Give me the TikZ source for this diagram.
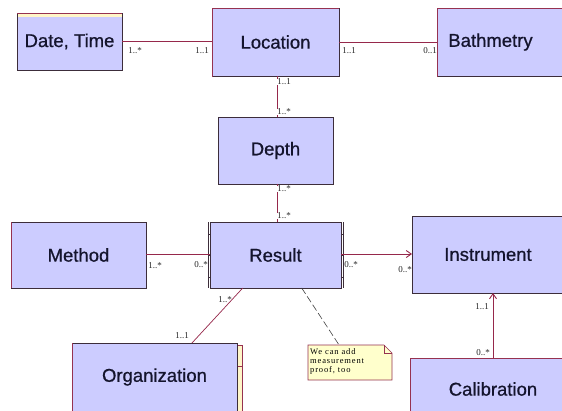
\documentclass[tikz,border=0pt]{standalone}
\usepackage{fontspec}
\setsansfont{Liberation Sans}
\newfontfamily\titlefont[FakeBold=0.7]{Liberation Sans}
\newfontfamily\multfont{Liberation Serif}
\newfontfamily\notefont[LetterSpace=10]{Liberation Serif}
\usetikzlibrary{arrows.meta,calc}

\definecolor{boxfill}{RGB}{204,204,255}
\definecolor{boxline}{RGB}{60,45,58}
\definecolor{edgered}{RGB}{150,50,80}
\definecolor{assoc}{RGB}{150,40,75}
\definecolor{ink}{RGB}{20,20,45}
\definecolor{notefill}{RGB}{255,255,204}
\definecolor{stripe}{RGB}{255,246,200}

\tikzset{
  cls/.style={draw=boxline, fill=boxfill, line width=0.9pt, inner sep=0pt,
              outer sep=0pt, anchor=north west},
  ttl/.style={font=\titlefont\fontsize{18.5}{20}\selectfont, text=ink},
  mult/.style={font=\multfont\fontsize{9}{9}\selectfont, text=black!85,
               inner sep=0.4pt},
  multbg/.style={mult, fill=white},
  assocline/.style={draw=assoc, line width=0.9pt},
  navig/.style={assocline, -{Straight Barb[length=5pt,width=7pt]}},
  anchorline/.style={draw=black!75, line width=0.6pt, dash pattern=on 7pt off 3pt},
}

\begin{document}
\begin{tikzpicture}[x=1pt,y=-1pt]
\useasboundingbox (0,0) rectangle (562,410);
\clip (0,0) rectangle (562,410);
\fill[white] (0,0) rectangle (562,410);

% classes
\node[cls, minimum width=105, minimum height=57,
      label={[ttl]center:Date, Time}] (date) at (17,13) {};
\fill[stripe] ([shift={(0.5,0.5)}]date.north west) rectangle ([shift={(-0.5,3.5)}]date.north east);
\draw[edgered, line width=0.6pt] (date.north west) -- (date.north east);

\node[cls, minimum width=127, minimum height=68,
      label={[ttl]center:Location}] (loc) at (212,8) {};
\node[cls, minimum width=133, minimum height=68,
      label={[ttl, xshift=-13]center:Bathmetry}] (bath) at (437,8) {};
\node[cls, minimum width=115, minimum height=67,
      label={[ttl]center:Depth}] (depth) at (218,117) {};
\node[cls, minimum width=135, minimum height=66,
      label={[ttl]center:Method}] (method) at (11,222) {};
\node[cls, minimum width=131, minimum height=66,
      label={[ttl]center:Result}] (result) at (210,222) {};
\node[cls, minimum width=158, minimum height=77,
      label={[ttl, xshift=-3]center:Instrument}] (instr) at (412,216) {};
\node[cls, minimum width=165, minimum height=72,
      label={[ttl, yshift=2]center:Organization}] (org) at (72,343) {};
\node[cls, minimum width=160, minimum height=57,
      label={[ttl, xshift=3, yshift=-2.5]center:Calibration}] (calib) at (410,358) {};

% reddish outer edges
\foreach \n in {loc,bath,calib}
  \draw[edgered, line width=0.5pt] ([yshift=-1]\n.south west) -- (\n.north west) -- (\n.north east);
\draw[edgered, line width=0.5pt] (method.south west) -- (method.north west);
\draw[edgered, line width=0.5pt] (org.south west) -- (org.north west);

% compartment tabs on the result class
\draw[boxline, line width=0.6pt] ([xshift=-2]result.north west) -- ([xshift=-2]result.south west);
\draw[boxline, line width=0.6pt] ([xshift=2]result.north east) -- ([xshift=2]result.south east);
\foreach \dy in {12,33,55}{
  \draw[boxline, line width=0.6pt] ([shift={(-2,\dy)}]result.north west) -- ++(2,0);
  \draw[boxline, line width=0.6pt] ([shift={(0,\dy)}]result.north east) -- ++(2,0);
}

% side strip on the organization class
\fill[stripe] ([shift={(0.5,2)}]org.north east) rectangle ([shift={(5,0)}]org.south east);
\draw[edgered, line width=0.5pt] ([shift={(0.5,2)}]org.north east) -- ([shift={(5,2)}]org.north east)
  -- ([shift={(5,0)}]org.south east);
\draw[edgered, line width=0.5pt] ([shift={(0.5,23)}]org.north east) -- ++(4.5,0);

% note with folded corner
\coordinate (nw) at (308,345);
\path[draw=edgered, fill=notefill, line width=0.6pt]
  (nw) -- (384,345) -- (392,353) -- (392,380) -- (308,380) -- cycle;
\draw[edgered, line width=0.6pt] (384,345) -- (384,353) -- (392,353);
\node[inner sep=0pt, outer sep=0pt, anchor=north west,
      minimum width=84, minimum height=35] (note) at (nw) {};
\node[font=\notefont\fontsize{8.5}{9}\selectfont, align=left, anchor=north west,
      inner sep=0pt] (notetext) at (310,348)
  {We can add\\measurement\\proof, too};

% associations
\draw[assocline] (date.east) -- (loc.west |- date.east);
\draw[assocline] (loc.east |- bath.west) -- (bath.west);
\draw[assocline] ([xshift=1.5]loc.south) -- ([xshift=1.5]depth.north);
\draw[assocline] ([xshift=1.5]depth.south) -- ([xshift=1.5]result.north);
\draw[assocline] ([yshift=1]method.east) -- ([yshift=1]result.west);
\draw[navig] ([yshift=1]result.east) -- ([yshift=1]result.east -| instr.west);
\coordinate (rs) at ($(result.south west)!0.25!(result.south east)$);
\coordinate (on) at ($(org.north west)!0.727!(org.north east)$);
\draw[assocline, line width=0.7pt] (rs) -- (on);
\coordinate (ca) at ([xshift=83]calib.north west);
\draw[navig] (ca) -- (ca |- instr.south);
\coordinate (rn) at ($(result.south west)!0.7!(result.south east)$);
\coordinate (nn) at ($(note.north west)!0.37!(note.north east)$);
\draw[anchorline] (rn) -- (nn);

% multiplicities
\node[mult] (m1) at (135,51) {1..*};
\node[mult] (m2) at (202,51) {1..1};
\node[mult] (m3) at (349,51) {1..1};
\node[mult] (m4) at (430,51) {0..1};
\node[multbg] (m5) at (284,82) {1..1};
\node[multbg] (m6) at (284,112) {1..*};
\node[multbg] (m7) at (284,189) {1..*};
\node[multbg] (m8) at (284,216) {1..*};
\node[mult] (m9) at (155,266) {1..*};
\node[mult] (m10) at (201,265) {0..*};
\node[mult] (m11) at (351,265) {0..*};
\node[mult] (m12) at (405,270) {0..*};
\node[mult] (m13) at (225,300) {1..*};
\node[mult] (m14) at (182,336) {1..1};
\node[mult] (m15) at (482,307) {1..1};
\node[multbg] (m16) at (483,353) {0..*};
\end{tikzpicture}
\end{document}
